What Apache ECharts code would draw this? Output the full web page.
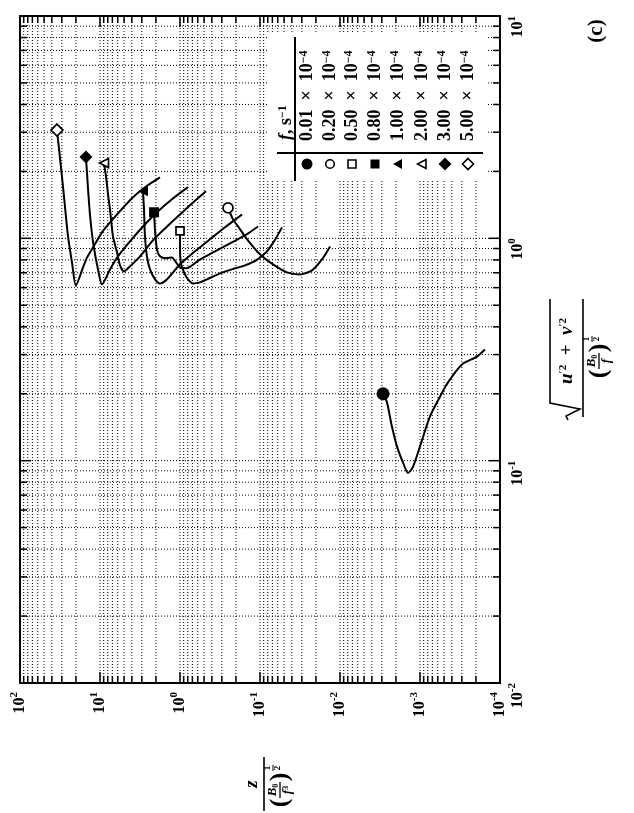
<!DOCTYPE html>
<html><head><meta charset="utf-8">
<script src="https://cdn.jsdelivr.net/npm/echarts/dist/echarts.min.js"></script>
<style>html,body{margin:0;padding:0;background:#fff}#c{width:634px;height:813px}</style>
</head><body><div id="c"></div>
<script>
// ---- axis ticks (z ratio on bottom, velocity ratio on right) ----
const zTickValues = [100, 10, 1, 0.1, 0.01, 0.001, 0.0001];
const zTickExp = ['2', '1', '0', '-1', '-2', '-3', '-4'];
const vTickValues = [0.01, 0.1, 1, 10];
const vTickExp = ['-2', '-1', '0', '1'];

// ---- legend ----
const legendLabels = ['0.01', '0.20', '0.50', '0.80', '1.00', '2.00', '3.00', '5.00'];

// ---- series: [z/(B0/f^3)^0.5 , sqrt(u'^2+v'^2)/(B0/f)^0.5] ----
const f001 = [[0.00290,0.200],[0.00259,0.183],[0.00224,0.142],[0.00194,0.116],[0.00163,0.098],[0.00141,0.088],[0.00122,0.094],[0.00100,0.116],[0.00075,0.158],[0.000562,0.194],[0.000447,0.225],[0.000299,0.271],[0.000194,0.294],[0.000154,0.316]];
const f020 = [[0.251,1.37],[0.218,1.22],[0.178,1.10],[0.145,0.990],[0.100,0.847],[0.0688,0.764],[0.0460,0.703],[0.0316,0.688],[0.0224,0.718],[0.0168,0.804],[0.0133,0.920]];
const f050 = [[1.00,1.08],[1.00,0.911],[0.972,0.772],[0.891,0.703],[0.794,0.654],[0.688,0.627],[0.562,0.634],[0.460,0.654],[0.316,0.696],[0.224,0.725],[0.154,0.756],[0.112,0.796],[0.0841,0.865],[0.0668,0.969],[0.0531,1.12]];
const f080 = [[2.11,1.31],[2.05,1.08],[1.94,0.892],[1.78,0.830],[1.50,0.813],[1.26,0.821],[1.12,0.780],[1.00,0.740],[0.841,0.733],[0.562,0.804],[0.365,0.874],[0.237,0.950],[0.154,1.03],[0.106,1.13]];
const f100 = [[2.90,1.63],[2.82,1.35],[2.74,1.02],[2.59,0.830],[2.37,0.725],[2.05,0.654],[1.78,0.627],[1.50,0.647],[1.22,0.703],[1.00,0.764],[0.649,0.874],[0.422,0.990],[0.266,1.13],[0.168,1.28]];
const f200 = [[8.91,2.18],[8.41,1.90],[7.94,1.58],[7.50,1.35],[6.88,1.02],[6.13,0.865],[5.62,0.756],[5.01,0.710],[4.22,0.748],[3.16,0.830],[2.18,0.979],[1.45,1.13],[1.00,1.28],[0.688,1.45],[0.473,1.63]];
const f300 = [[15.0,2.32],[14.5,1.94],[14.1,1.66],[13.3,1.26],[12.2,0.959],[10.6,0.725],[9.44,0.621],[7.50,0.725],[5.96,0.830],[4.22,0.969],[2.90,1.13],[1.94,1.31],[1.26,1.50],[0.794,1.70]];
const f500 = [[34.5,3.07],[32.5,2.52],[29.0,1.71],[25.1,1.02],[22.4,0.780],[20.0,0.614],[16.3,0.740],[14.5,0.821],[12.2,0.911],[9.17,1.08],[6.13,1.28],[3.87,1.53],[2.66,1.71],[1.78,1.88]];

const SERIF = '"Liberation Serif","DejaVu Serif",serif';

// log-paper grid values (1..9 x each decade)
const zGridVals = [];
for (let e = -4; e <= 1; e++) for (let m = 1; m <= 9; m++) zGridVals.push(+(m * Math.pow(10, e)).toPrecision(3));
zGridVals.push(100);
const vGridVals = [];
for (let e = -2; e <= 0; e++) for (let m = 1; m <= 9; m++) vGridVals.push(+(m * Math.pow(10, e)).toPrecision(3));
vGridVals.push(10);

function isMajor(v) { const l = Math.log10(v); return Math.abs(l - Math.round(l)) < 1e-6; }

const GRID_STYLE = {stroke: '#000', lineWidth: 1, lineDash: [1, 2]};
function renderVert(params, api) {
  const cs = params.coordSys;
  const val = api.value(0);
  const x = api.coord([val, 1])[0];
  const t = isMajor(val) ? 11 : 7;
  const top = cs.y, bot = cs.y + cs.height;
  const ch = [];
  if (x > cs.x + 1.5 && x < cs.x + cs.width - 1.5) {
    ch.push({type: 'line', shape: {x1: x, y1: top, x2: x, y2: bot}, style: GRID_STYLE});
  }
  ch.push({type: 'line', shape: {x1: x, y1: bot, x2: x, y2: bot - t}, style: {stroke: '#000', lineWidth: 1.5}});
  ch.push({type: 'line', shape: {x1: x, y1: top, x2: x, y2: top + t}, style: {stroke: '#000', lineWidth: 1.5}});
  return {type: 'group', children: ch};
}
function renderHorz(params, api) {
  const cs = params.coordSys;
  const val = api.value(1);
  const y = api.coord([1, val])[1];
  const t = isMajor(val) ? 11 : 7;
  const left = cs.x, right = cs.x + cs.width;
  const ch = [];
  if (y > cs.y + 1.5 && y < cs.y + cs.height - 1.5) {
    ch.push({type: 'line', shape: {x1: left, y1: y, x2: right, y2: y}, style: GRID_STYLE});
  }
  ch.push({type: 'line', shape: {x1: left, y1: y, x2: left + t, y2: y}, style: {stroke: '#000', lineWidth: 1.5}});
  ch.push({type: 'line', shape: {x1: right, y1: y, x2: right - t, y2: y}, style: {stroke: '#000', lineWidth: 1.5}});
  return {type: 'group', children: ch};
}

function mkSeries(name, data, sym, size, filled, rot) {
  const d = data.map((p, i) => i === 0 ? {
    value: p, symbol: sym, symbolSize: size, symbolRotate: rot || 0,
    itemStyle: {color: filled ? '#000' : '#fff', borderColor: '#000', borderWidth: filled ? 0 : 1.7}
  } : p);
  return {
    type: 'line', name, data: d, symbol: 'none', showSymbol: true, showAllSymbol: true,
    smooth: 0.25, lineStyle: {color: '#000', width: 2}, itemStyle: {color: '#000'},
    z: 5, silent: true, animation: false
  };
}

const tickRich = {
  b: {fontFamily: SERIF, fontWeight: 'bold', fontSize: 16, color: '#000', lineHeight: 22},
  s: {fontFamily: SERIF, fontWeight: 'bold', fontSize: 11, color: '#000', lineHeight: 14, verticalAlign: 'top'}
};
function tickFmt(values, exps) {
  return v => {
    const e = Math.log10(v);
    const i = values.findIndex(t => Math.abs(Math.log10(t) - e) < 1e-6);
    return i < 0 ? '' : '{b|10}{s|' + exps[i] + '}';
  };
}

// ---- legend graphics ----
const colX = [307, 330, 352, 375, 398, 422, 445, 468];
const legRich = {
  n: {fontFamily: SERIF, fontWeight: 'bold', fontSize: 18, color: '#000'},
  s: {fontFamily: SERIF, fontWeight: 'bold', fontSize: 12, color: '#000', verticalAlign: 'top', lineHeight: 12},
  i: {fontFamily: SERIF, fontWeight: 'bold', fontStyle: 'italic', fontSize: 18, color: '#000'}
};
function txt(x, y, text, rich, extra) {
  return Object.assign({type: 'text', x, y, rotation: Math.PI / 2, z: 60, silent: true,
    style: {text, rich, align: 'left', verticalAlign: 'middle', textAlign: 'left', textVerticalAlign: 'middle', fill: '#000'}}, extra || {});
}
const legendEls = [];
legendEls.push({type: 'rect', shape: {x: 267, y: 34, width: 219, height: 147}, style: {fill: '#fff'}, z: 50, silent: true});
legendEls.push({type: 'line', shape: {x1: 295, y1: 37, x2: 295, y2: 181}, style: {stroke: '#000', lineWidth: 2}, z: 60, silent: true});
legendEls.push({type: 'line', shape: {x1: 277, y1: 153, x2: 483, y2: 153}, style: {stroke: '#000', lineWidth: 2}, z: 60, silent: true});
legendEls.push(txt(286, 140, '{i|f}{n|, s}{s|\u22121}', legRich));
legendLabels.forEach((lab, k) => {
  legendEls.push(txt(colX[k], 141, '{n|' + lab + '\u2002\u00d7\u200210}{s|\u22124}', legRich));
});
const my = 164;
const mk = (shape, type, filled, extra) => Object.assign({type, shape, z: 60, silent: true,
  style: {fill: filled ? '#000' : '#fff', stroke: '#000', lineWidth: filled ? 0 : 1.6}}, extra || {});
legendEls.push(mk({cx: colX[0], cy: my, r: 5.5}, 'circle', true));
legendEls.push(mk({cx: colX[1], cy: my, r: 4.3}, 'circle', false));
legendEls.push(mk({x: colX[2] - 4, y: my - 4, width: 8, height: 8}, 'rect', false));
legendEls.push(mk({x: colX[3] - 4.5, y: my - 4.5, width: 9, height: 9}, 'rect', true));
legendEls.push(mk({points: [[colX[4] - 5, my], [colX[4] + 4, my - 5], [colX[4] + 4, my + 5]]}, 'polygon', true));
legendEls.push(mk({points: [[colX[5] - 4.5, my], [colX[5] + 4, my - 4.5], [colX[5] + 4, my + 4.5]]}, 'polygon', false));
legendEls.push(mk({points: [[colX[6], my - 6.5], [colX[6] + 6.5, my], [colX[6], my + 6.5], [colX[6] - 6.5, my]]}, 'polygon', true));
legendEls.push(mk({points: [[colX[7], my - 5.5], [colX[7] + 5.5, my], [colX[7], my + 5.5], [colX[7] - 5.5, my]]}, 'polygon', false));

// ---- axis titles (rotated groups) ----
const tRich = {
  i: {fontFamily: SERIF, fontWeight: 'bold', fontStyle: 'italic', fontSize: 19, color: '#000'},
  n: {fontFamily: SERIF, fontWeight: 'bold', fontSize: 19, color: '#000'},
  p: {fontFamily: SERIF, fontWeight: 'bold', fontSize: 11, color: '#000', verticalAlign: 'top', lineHeight: 12},
  si: {fontFamily: SERIF, fontWeight: 'bold', fontStyle: 'italic', fontSize: 13, color: '#000'},
  sb: {fontFamily: SERIF, fontWeight: 'bold', fontSize: 8, color: '#000', verticalAlign: 'bottom', lineHeight: 8},
  sp: {fontFamily: SERIF, fontWeight: 'bold', fontSize: 8, color: '#000', verticalAlign: 'top', lineHeight: 8},
  e: {fontFamily: SERIF, fontWeight: 'bold', fontSize: 9, color: '#000'},
  par: {fontFamily: SERIF, fontWeight: 'bold', fontSize: 26, color: '#000'}
};
function ltxt(x, y, text, align) {
  return {type: 'text', x, y, silent: true,
    style: {text, rich: tRich, align: align || 'center', verticalAlign: 'middle', textAlign: align || 'center', textVerticalAlign: 'middle', fill: '#000'}};
}
function lline(x1, y1, x2, y2, w) {
  return {type: 'line', silent: true, shape: {x1, y1, x2, y2}, style: {stroke: '#000', lineWidth: w || 1.5}};
}
function denomParts(cx, topText, botText) {
  return [
    ltxt(cx - 17, 16, '{par|(}'),
    ltxt(cx - 4, 9, topText),
    lline(cx - 12, 16, cx + 4, 16, 1.3),
    ltxt(cx - 4, 24, botText),
    ltxt(cx + 9, 16, '{par|)}'),
    ltxt(cx + 18, 4, '{e|1}'),
    lline(cx + 15, 9, cx + 21, 9, 1),
    ltxt(cx + 18, 14, '{e|2}')
  ];
}
const rightTitle = {
  type: 'group', x: 583, y: 357, rotation: Math.PI / 2, z: 60, silent: true,
  children: [
    lline(-60, 0, 58, 0, 1.6),
    {type: 'polyline', silent: true, shape: {points: [[-63, -15], [-59, -17], [-52, -3], [-46, -33], [58, -33]]}, style: {stroke: '#000', lineWidth: 1.6, fill: null}},
    ltxt(6, -16, '{i|u}{p|\u20322}{n|  +  }{i|v}{p|\u20322}'),
    ...denomParts(0, '{si|B}{sb|0}', '{si|f}')
  ]
};
const leftTitle = {
  type: 'group', x: 264, y: 784, rotation: Math.PI / 2, z: 60, silent: true,
  children: [
    ltxt(0, -12, '{i|z}'),
    lline(-27, 0, 27, 0, 1.6),
    ...denomParts(-2, '{si|B}{sb|0}', '{si|f}{sp|3}')
  ]
};
const panelLabel = {type: 'text', x: 597, y: 31, rotation: Math.PI / 2, z: 60, silent: true,
  style: {text: '(c)', font: 'bold 21px ' + SERIF, fill: '#000', align: 'center', verticalAlign: 'middle', textAlign: 'center', textVerticalAlign: 'middle'}};

const chart = echarts.init(document.getElementById('c'), null, {renderer: 'canvas'});
chart.setOption({
  animation: false,
  backgroundColor: '#fff',
  grid: {left: 20, right: 134, top: 16, bottom: 130, show: true, borderColor: '#000', borderWidth: 2,
    backgroundColor: 'transparent', containLabel: false, outerBoundsMode: 'none'},
  xAxis: {
    type: 'log', logBase: 10, min: 0.0001, max: 100, inverse: true, position: 'bottom',
    axisLine: {show: false}, axisTick: {show: false}, splitLine: {show: false},
    axisLabel: {rotate: 90, margin: 9, formatter: tickFmt(zTickValues, zTickExp), rich: tickRich, showMinLabel: true, showMaxLabel: true}
  },
  yAxis: {
    type: 'log', logBase: 10, min: 0.01, max: 10, position: 'right',
    axisLine: {show: false}, axisTick: {show: false}, splitLine: {show: false},
    axisLabel: {rotate: 90, margin: 7, align: 'right', formatter: tickFmt(vTickValues, vTickExp), rich: tickRich, showMinLabel: true, showMaxLabel: true}
  },
  graphic: {elements: [...legendEls, rightTitle, leftTitle, panelLabel]},
  series: [
    {type: 'custom', data: zGridVals.map(v => [v, 1]), encode: {x: 0, y: 1}, renderItem: renderVert, z: 1, silent: true, clip: false},
    {type: 'custom', data: vGridVals.map(v => [1, v]), encode: {x: 0, y: 1}, renderItem: renderHorz, z: 1, silent: true, clip: false},
    mkSeries('0.01', f001, 'circle', 13, true),
    mkSeries('0.20', f020, 'circle', 10, false),
    mkSeries('0.50', f050, 'rect', 8, false),
    mkSeries('0.80', f080, 'rect', 10, true),
    mkSeries('1.00', f100, 'triangle', 10, true, 90),
    mkSeries('2.00', f200, 'triangle', 9, false, 90),
    mkSeries('3.00', f300, 'diamond', 13, true),
    mkSeries('5.00', f500, 'diamond', 12, false)
  ]
});
</script></body></html>
